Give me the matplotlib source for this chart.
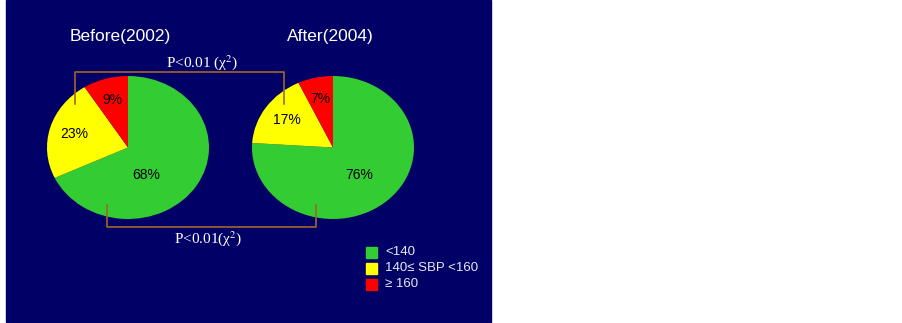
import matplotlib.pyplot as plt
from matplotlib.patches import Rectangle

# blood pressure share, before / after
groups = ["Before(2002)", "After(2004)"]
categories = ["<140", "140\u2264 SBP <160", "\u2265 160"]
before = [68, 23, 9]
after = [76, 17, 7]
colors = ["#33CC33", "#FFFF00", "#FF0000"]
p_top = "P<0.01 (\u03c7${}^{2}$)"
p_bottom = "P<0.01(\u03c7${}^{2}$)"

W, H = 902, 323
navy = "#000066"
bracket = "#A0662C"
plt.rcParams["font.family"] = ["Liberation Sans", "DejaVu Sans"]
plt.rcParams["mathtext.fontset"] = "stix"

fig = plt.figure(figsize=(W / 100, H / 100), dpi=100)
fig.patch.set_facecolor("white")

# background panel in pixel coords
bg = fig.add_axes([0, 0, 1, 1])
bg.set_xlim(0, W)
bg.set_ylim(H, 0)
bg.axis("off")
bg.add_patch(Rectangle((6, 0), 485, 322, color=navy, zorder=0))

def px_box(x0, x1, y0, y1):
    return [x0 / W, (H - y1) / H, (x1 - x0) / W, (y1 - y0) / H]

# (bbox in pixels, green label position in pie units)
pies = [
    (before, px_box(47, 209, 76, 219), (0.23, -0.39)),
    (after, px_box(252, 414, 76, 219), (0.32, -0.39)),
]
title_x = [120, 330]

for (vals, box, gpos), name, tx in zip(pies, groups, title_x):
    ax = fig.add_axes(box)
    wedges, texts, autotexts = ax.pie(vals, colors=colors, startangle=90,
                                      counterclock=False, autopct="%d%%",
                                      pctdistance=0.69, radius=1,
                                      textprops=dict(fontsize=10, color="black"))
    autotexts[0].set_position(gpos)
    ax.set_xlim(-1, 1)
    ax.set_ylim(-1, 1)
    ax.set_aspect("auto")
    ax.axis("off")
    bg.text(tx, 37, name, color="white", fontsize=12.5, ha="center", va="center")

# significance brackets, drawn over pies
top = fig.add_axes([0, 0, 1, 1])
top.set_xlim(0, W)
top.set_ylim(H, 0)
top.axis("off")
top.plot([75, 75, 284, 284], [104, 72, 72, 104], color=bracket, lw=1.2)
top.plot([107, 107, 316, 316], [205, 227, 227, 205], color=bracket, lw=1.2)
top.text(202, 63, p_top, color="white", fontsize=11, ha="center", va="center",
         family="Liberation Serif")
top.text(208, 239, p_bottom, color="white", fontsize=11, ha="center", va="center",
         family="Liberation Serif")

# legend
for i, (lab, c) in enumerate(zip(categories, colors)):
    y = 252 + i * 16
    top.add_patch(Rectangle((366, y - 5.5), 11, 11, color=c))
    top.text(385, y, lab, color="#E8E8F0", fontsize=9.5, ha="left", va="center")

fig.savefig("out.png", dpi=100, facecolor="white")
